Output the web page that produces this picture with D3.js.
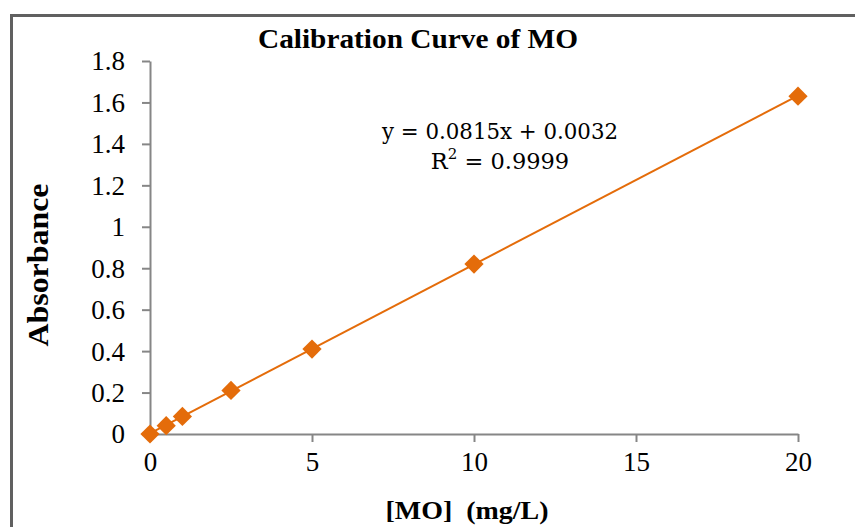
<!DOCTYPE html>
<html><head><meta charset="utf-8">
<script src="https://cdn.jsdelivr.net/npm/d3@7/dist/d3.min.js"></script>
<style>body{margin:0;background:#fff}svg{display:block}</style>
</head><body><svg id="c" width="855" height="527"></svg>
<script>
const concentrations = [0, 0.5, 1, 2.5, 5, 10, 20];
const absorbances = [0, 0.04, 0.085, 0.21, 0.41, 0.82, 1.63];
const xTicks = [0, 5, 10, 15, 20];
const yTicks = [0, 0.2, 0.4, 0.6, 0.8, 1, 1.2, 1.4, 1.6, 1.8];
const slope = 0.0815, intercept = 0.0032;
const titleText = "Calibration Curve of MO";
const xLabel = "[MO]  (mg/L)";
const yLabel = "Absorbance";

const svg = d3.select("#c");
const serif = "'Liberation Serif', 'Times New Roman', serif";
const eqFont = "'DejaVu Serif', serif";
const orange = "#E46C0A";
const axisCol = "#868686";

// frame
svg.append("rect").attr("x", 11.5).attr("y", 15.5).attr("width", 900).attr("height", 600)
  .attr("fill", "none").attr("stroke", "#606060").attr("stroke-width", 3);

const x = d3.scaleLinear().domain([0, 20]).range([150, 798]);
const y = d3.scaleLinear().domain([0, 1.8]).range([434, 61]);

const yAxis = svg.append("g").attr("transform", "translate(150,0)")
  .call(d3.axisLeft(y).tickValues(yTicks).tickSize(8).tickSizeOuter(0).tickPadding(17)
    .tickFormat(d => d === 0 ? "0" : String(+d.toFixed(1))));
const xAxis = svg.append("g").attr("transform", "translate(0,434)")
  .call(d3.axisBottom(x).tickValues(xTicks).tickSize(8).tickSizeOuter(0).tickPadding(10));
[xAxis, yAxis].forEach(g => {
  g.selectAll("path, line").attr("stroke", axisCol).attr("stroke-width", 2);
  g.selectAll("text").attr("fill", "#000").style("font-family", serif).style("font-size", "27px");
});
yAxis.selectAll("text").attr("dy", "0.33em");
xAxis.selectAll("text").attr("dy", "0.72em");

// trendline
svg.append("line")
  .attr("x1", x(0)).attr("y1", y(intercept))
  .attr("x2", x(20)).attr("y2", y(slope * 20 + intercept))
  .attr("stroke", orange).attr("stroke-width", 2);

// markers
const pts = concentrations.map((c, i) => ({c, a: absorbances[i]}));
svg.append("g").selectAll("path").data(pts).join("path")
  .attr("d", d3.symbol().type(d3.symbolSquare).size(185))
  .attr("transform", d => `translate(${x(d.c)},${y(d.a)}) rotate(45)`)
  .attr("fill", orange);

// title
svg.append("text").attr("x", 418).attr("y", 48).attr("text-anchor", "middle")
  .style("font-family", serif).style("font-weight", "bold").style("font-size", "28px")
  .attr("textLength", 320).attr("lengthAdjust", "spacingAndGlyphs").text(titleText);

// equation
svg.append("text").attr("x", 500).attr("y", 139).attr("text-anchor", "middle")
  .style("font-family", eqFont).style("font-size", "22.5px")
  .attr("textLength", 236).attr("lengthAdjust", "spacingAndGlyphs")
  .text(`y = ${slope}x + ${intercept}`);
const r2 = svg.append("text").attr("x", 500).attr("y", 169).attr("text-anchor", "middle")
  .style("font-family", eqFont).style("font-size", "22.5px");
r2.append("tspan").text("R");
r2.append("tspan").attr("dy", -10).style("font-size", "15px").text("2");
r2.append("tspan").attr("dy", 10).text(" = 0.9999");

// axis titles
svg.append("text").attr("transform", "translate(48,265) rotate(-90)").attr("text-anchor", "middle")
  .style("font-family", serif).style("font-weight", "bold").style("font-size", "29px")
  .attr("textLength", 163).attr("lengthAdjust", "spacingAndGlyphs").text(yLabel);
svg.append("text").attr("x", 467).attr("y", 519).attr("text-anchor", "middle")
  .style("font-family", serif).style("font-weight", "bold").style("font-size", "26px")
  .attr("textLength", 163).attr("lengthAdjust", "spacingAndGlyphs").attr("xml:space", "preserve").text(xLabel);
</script></body></html>
